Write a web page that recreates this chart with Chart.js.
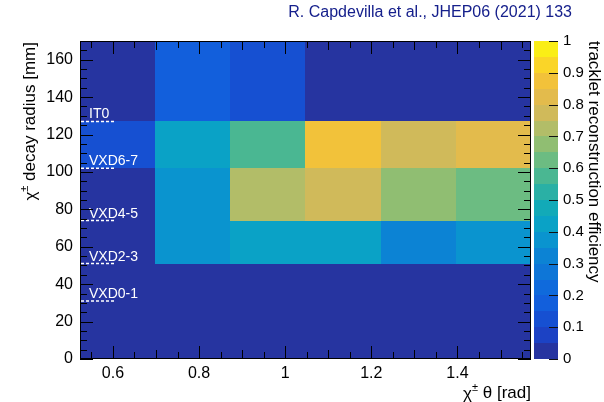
<!DOCTYPE html>
<html>
<head>
<meta charset="utf-8">
<script src="https://cdn.jsdelivr.net/npm/chart.js@4.4.0/dist/chart.umd.min.js"></script>
<style>
  html, body { margin: 0; padding: 0; background: #fff; }
  #wrap { width: 604px; height: 402px; }
</style>
</head>
<body>
<div id="wrap"><canvas id="effChart" width="604" height="402"></canvas></div>
<script>
// Bin edges: theta in rad (30 deg .. 90 deg, 10 deg bins), decay radius in mm
const thetaEdges = [0.5236, 0.6981, 0.8727, 1.0472, 1.2217, 1.3963, 1.5708];
const radiusEdges = [0, 31, 51, 74, 102, 127, 170];

// Tracklet reconstruction efficiency, one row per radius bin (bottom to top)
const effRow0 = [0, 0, 0, 0, 0, 0];
const effRow1 = [0, 0, 0, 0, 0, 0];
const effRow2 = [0, 0.37, 0.43, 0.43, 0.32, 0.37];
const effRow3 = [0, 0.37, 0.72, 0.77, 0.67, 0.62];
const effRow4 = [0.12, 0.43, 0.55, 0.87, 0.77, 0.82];
const effRow5 = [0, 0.17, 0.12, 0, 0, 0];
const efficiency = [effRow0, effRow1, effRow2, effRow3, effRow4, effRow5];

// Detector layers drawn as dashed markers on the left
const layerNames = ['VXD0-1', 'VXD2-3', 'VXD4-5', 'VXD6-7', 'IT0'];
const layerRadii = [31, 51, 74, 102, 127];

// Tick values
const thetaTicks = [0.6, 0.8, 1.0, 1.2, 1.4];
const radiusTicks = [0, 20, 40, 60, 80, 100, 120, 140, 160];
const zTicks = [0, 0.1, 0.2, 0.3, 0.4, 0.5, 0.6, 0.7, 0.8, 0.9, 1];

// 20 contour colours (bird-like palette), 0 -> 1
const palette = [
    'rgb(38,52,160)', 'rgb(28,66,196)', 'rgb(22,80,210)', 'rgb(18,95,220)',
    'rgb(15,106,220)', 'rgb(14,118,215)', 'rgb(12,131,212)', 'rgb(10,148,207)',
    'rgb(10,162,198)', 'rgb(18,170,184)', 'rgb(42,176,165)', 'rgb(74,183,146)',
    'rgb(108,188,130)', 'rgb(144,190,114)', 'rgb(178,189,104)', 'rgb(208,186,90)',
    'rgb(227,187,76)', 'rgb(242,194,58)', 'rgb(250,213,40)', 'rgb(250,238,22)'
];

function colorFor(v) {
    let i = Math.floor(v * palette.length);
    if (i < 0) i = 0;
    if (i >= palette.length) i = palette.length - 1;
    return palette[i];
}

const FONT = '"Liberation Sans", Arial, Helvetica, sans-serif';

// Draw the histogram cells through the x / y scales
const cellsPlugin = {
    id: 'cells',
    beforeDatasetsDraw(chart) {
        const {ctx, scales: {x, y}} = chart;
        ctx.save();
        for (let r = 0; r < efficiency.length; r++) {
            for (let c = 0; c < efficiency[r].length; c++) {
                const x0 = Math.round(x.getPixelForValue(thetaEdges[c]));
                const x1 = Math.round(x.getPixelForValue(thetaEdges[c + 1]));
                const y0 = Math.round(y.getPixelForValue(radiusEdges[r + 1]));
                const y1 = Math.round(y.getPixelForValue(radiusEdges[r]));
                ctx.fillStyle = colorFor(efficiency[r][c]);
                ctx.fillRect(x0, y0, x1 - x0, y1 - y0);
            }
        }
        ctx.restore();
    }
};

// Draw text like "χ± rest" with a raised small ±
function superTitle(ctx, rest) {
    ctx.font = '17px ' + FONT;
    const wChi = ctx.measureText('\u03c7').width;
    ctx.font = '11px ' + FONT;
    const wPm = ctx.measureText('\u00b1').width;
    ctx.font = '17px ' + FONT;
    const wRest = ctx.measureText(rest).width;
    return {
        width: wChi + wPm + wRest,
        draw(x0, yMid) {
            ctx.textBaseline = 'middle';
            ctx.textAlign = 'left';
            ctx.font = '17px ' + FONT;
            ctx.fillText('\u03c7', x0, yMid + 1);
            ctx.font = '11px ' + FONT;
            ctx.fillText('\u00b1', x0 + wChi, yMid - 5);
            ctx.font = '17px ' + FONT;
            ctx.fillText(rest, x0 + wChi + wPm, yMid);
        }
    };
}

const decorPlugin = {
    id: 'decor',
    afterDraw(chart) {
        const {ctx, chartArea: a, scales: {x, y, z}} = chart;
        ctx.save();

        // layer markers
        ctx.strokeStyle = '#fff';
        ctx.fillStyle = '#fff';
        ctx.lineWidth = 1.5;
        ctx.setLineDash([3, 2]);
        ctx.font = '14px ' + FONT;
        ctx.textAlign = 'left';
        ctx.textBaseline = 'alphabetic';
        layerRadii.forEach((rad, i) => {
            const py = y.getPixelForValue(rad);
            ctx.beginPath();
            ctx.moveTo(a.left + 1, py);
            ctx.lineTo(a.left + 36, py);
            ctx.stroke();
            ctx.fillText(layerNames[i], a.left + 9, py - 3);
        });
        ctx.setLineDash([]);

        // tick marks on all four sides
        ctx.strokeStyle = '#000';
        ctx.lineWidth = 1;
        ctx.beginPath();
        for (let v = 0; v <= 170; v += 5) {
            const py = Math.round(y.getPixelForValue(v)) + 0.5;
            const len = v % 20 === 0 ? 13 : 7;
            ctx.moveTo(a.left, py); ctx.lineTo(a.left + len, py);
            ctx.moveTo(a.right, py); ctx.lineTo(a.right - len, py);
        }
        for (let k = 11; k <= 31; k++) {
            const v = k * 0.05;
            if (v < thetaEdges[0] || v > thetaEdges[thetaEdges.length - 1]) continue;
            const px = Math.round(x.getPixelForValue(v)) + 0.5;
            const len = k % 4 === 0 ? 13 : (k % 2 === 0 ? 9 : 7);
            ctx.moveTo(px, a.bottom); ctx.lineTo(px, a.bottom - len);
            ctx.moveTo(px, a.top); ctx.lineTo(px, a.top + len);
        }
        ctx.stroke();

        // frame
        ctx.strokeRect(a.left + 0.5, a.top + 0.5, a.right - a.left - 1, a.bottom - a.top - 1);

        // colour bar
        const barL = z.left + 3, barR = z.left + 27;
        for (let i = 0; i < palette.length; i++) {
            const yTop = Math.round(z.getPixelForValue((i + 1) / palette.length));
            const yBot = Math.round(z.getPixelForValue(i / palette.length));
            ctx.fillStyle = palette[i];
            ctx.fillRect(barL, yTop, barR - barL, yBot - yTop);
        }
        ctx.strokeStyle = '#111';
        ctx.beginPath();
        zTicks.forEach(v => {
            const py = Math.round(z.getPixelForValue(v)) + 0.5;
            ctx.moveTo(barR, py); ctx.lineTo(barR - 9, py);
        });
        ctx.stroke();

        // axis titles with superscript
        ctx.fillStyle = '#000';
        const xt = superTitle(ctx, ' \u03b8 [rad]');
        xt.draw(a.right - xt.width, 393);

        const yt = superTitle(ctx, ' decay radius [mm]');
        ctx.save();
        ctx.translate(30, a.top);
        ctx.rotate(-Math.PI / 2);
        yt.draw(-yt.width - 1, 0);
        ctx.restore();

        // reference
        ctx.fillStyle = 'rgb(22,32,140)';
        ctx.font = '16px ' + FONT;
        ctx.textAlign = 'right';
        ctx.textBaseline = 'middle';
        ctx.fillText('R. Capdevilla et al., JHEP06 (2021) 133', 572, 13);

        ctx.restore();
    }
};

const fmt = v => String(+Number(v).toFixed(2));

const ctx = document.getElementById('effChart').getContext('2d');
window.effChartInstance = new Chart(ctx, {
    type: 'scatter',
    data: { datasets: [{ data: [] }] },
    options: {
        responsive: false,
        animation: false,
        events: [],
        layout: { padding: { top: 32, left: 0, right: 0, bottom: 0 } },
        plugins: { legend: { display: false }, tooltip: { enabled: false } },
        scales: {
            x: {
                type: 'linear',
                min: thetaEdges[0],
                max: thetaEdges[thetaEdges.length - 1],
                grid: { display: false, drawTicks: false },
                border: { display: false },
                afterBuildTicks: s => { s.ticks = thetaTicks.map(v => ({ value: v })); },
                ticks: { callback: fmt, color: '#000', padding: 5, maxRotation: 0,
                         font: { family: FONT, size: 16 } },
                afterFit: s => { s.height = 43; }
            },
            y: {
                type: 'linear',
                min: radiusEdges[0],
                max: radiusEdges[radiusEdges.length - 1],
                grid: { display: false, drawTicks: false },
                border: { display: false },
                afterBuildTicks: s => { s.ticks = radiusTicks.map(v => ({ value: v })); },
                ticks: { callback: fmt, color: '#000', padding: 7,
                         font: { family: FONT, size: 16 } },
                afterFit: s => { s.width = 80; }
            },
            z: {
                type: 'linear',
                axis: 'y',
                position: 'right',
                min: 0,
                max: 1,
                grid: { display: false, drawTicks: false },
                border: { display: false },
                afterBuildTicks: s => { s.ticks = zTicks.map(v => ({ value: v })); },
                ticks: { callback: fmt, color: '#000', padding: 32,
                         font: { family: FONT, size: 15 } },
                title: {
                    display: true,
                    text: 'tracklet reconstruction efficiency',
                    align: 'end',
                    color: '#000',
                    padding: 0,
                    font: { family: FONT, size: 17 }
                },
                afterFit: s => { s.width = 73; }
            }
        }
    },
    plugins: [cellsPlugin, decorPlugin]
});
</script>
</body>
</html>
